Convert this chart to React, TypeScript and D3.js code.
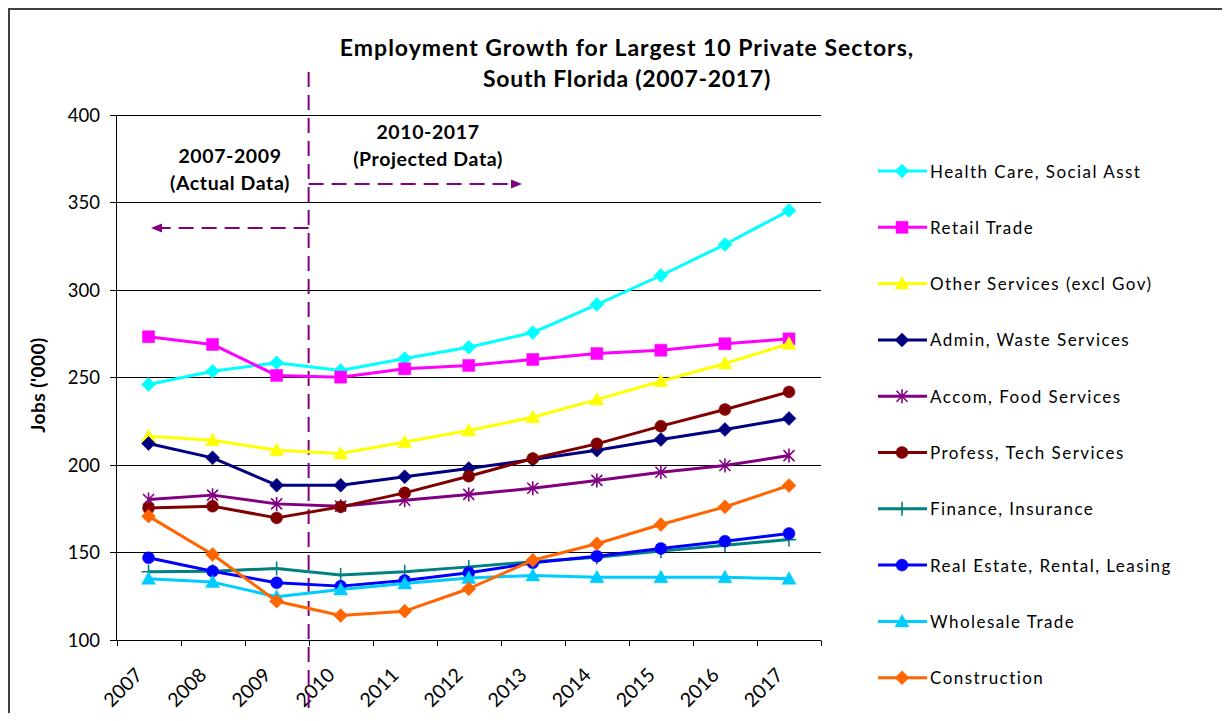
import React from 'react';
import * as d3 from 'd3';

const years = ['2007', '2008', '2009', '2010', '2011', '2012', '2013', '2014', '2015', '2016', '2017'];
const yTicks = [100, 150, 200, 250, 300, 350, 400];

const healthCare = [245.7, 253.3, 258.1, 253.7, 260.6, 267.0, 275.4, 291.4, 308.0, 325.7, 345.1];
const retailTrade = [273.0, 268.6, 250.9, 249.9, 254.7, 256.6, 260.0, 263.4, 265.3, 269.0, 271.8];
const otherServices = [216.2, 213.9, 208.2, 206.3, 212.8, 219.4, 227.0, 237.1, 247.6, 257.7, 269.0];
const adminWaste = [212.0, 203.8, 188.2, 188.2, 193.0, 197.7, 202.9, 208.2, 214.3, 220.0, 226.3];
const accomFood = [180.0, 182.5, 177.5, 176.2, 179.6, 182.9, 186.4, 190.9, 195.6, 199.4, 205.1];
const professTech = [175.2, 176.2, 169.5, 175.8, 183.8, 193.3, 203.4, 211.8, 221.9, 231.4, 241.5];
const financeIns = [138.7, 139.0, 140.6, 136.8, 138.7, 141.5, 144.4, 147.0, 150.5, 153.9, 157.1];
const realEstate = [146.7, 139.0, 132.4, 130.5, 133.7, 138.1, 143.8, 147.6, 152.0, 156.2, 160.6];
const wholesale = [134.7, 132.8, 124.4, 128.6, 132.0, 135.2, 136.6, 135.6, 135.6, 135.6, 134.7];
const construction = [170.5, 148.6, 121.9, 113.7, 116.2, 129.0, 145.3, 154.7, 165.7, 175.8, 188.0];

const seriesNames = [
  'Health Care, Social Asst',
  'Retail Trade',
  'Other Services (excl Gov)',
  'Admin, Waste Services',
  'Accom, Food Services',
  'Profess, Tech Services',
  'Finance, Insurance',
  'Real Estate, Rental, Leasing',
  'Wholesale Trade',
  'Construction',
];
const seriesValues = [healthCare, retailTrade, otherServices, adminWaste, accomFood, professTech, financeIns, realEstate, wholesale, construction];
const seriesColors = ['#00FFFF', '#FF00FF', '#FFFF00', '#000080', '#800080', '#800000', '#008080', '#0000FF', '#00CCFF', '#FF6600'];
const seriesMarkers = ['diamond', 'square', 'triangle', 'diamond', 'star', 'circle', 'plus', 'circle', 'triangle', 'diamond'];

const FONT = "Lato, 'Open Sans', sans-serif";

function markerPath(type: string): string {
  switch (type) {
    case 'diamond':
      return 'M0,-7L7,0L0,7L-7,0Z';
    case 'square':
      return 'M-6,-6H6V6H-6Z';
    case 'triangle':
      return 'M0,-7L7,5.5L-7,5.5Z';
    case 'circle':
      return d3.symbol(d3.symbolCircle, Math.PI * 36)() || '';
    case 'star':
      return 'M-5.5,-5.5L5.5,5.5M-5.5,5.5L5.5,-5.5M0,-7V7';
    case 'plus':
      return 'M0,-7V7M-7,0H7';
    default:
      return '';
  }
}

function Marker({ type, color, x, y }: { type: string; color: string; x: number; y: number }) {
  const stroke = type === 'star' || type === 'plus';
  return (
    <path
      d={markerPath(type)}
      transform={`translate(${x},${y})`}
      fill={stroke ? 'none' : color}
      stroke={color}
      strokeWidth={stroke ? 1.6 : 0.5}
    />
  );
}

export default function App() {
  const x = d3.scaleBand<string>().domain(years).range([116.5, 821]).padding(0);
  const y = d3.scaleLinear().domain([100, 400]).range([639.5, 114.5]);
  const cx = (yr: string) => (x(yr) as number) + x.bandwidth() / 2;
  const line = d3
    .line<number>()
    .x((_, i) => cx(years[i]))
    .y((v) => y(v));

  const divX = x('2010') as number;
  const crisp = (v: number) => Math.round(v) + 0.5;
  const purple = '#800080';
  const legendY0 = 171;
  const legendStep = 56.3;
  const annStyle = { fontFamily: FONT, fontWeight: 'bold' as const, fontSize: 19.5, letterSpacing: 0.6 };

  return (
    <svg width={1214} height={705} style={{ display: 'block', overflow: 'visible' }}>
      <g transform="translate(-8,-8)">
        <rect x={0} y={0} width={1240} height={730} fill="#fff" />
        {/* chart border */}
        <line x1={9} y1={8} x2={9} y2={730} stroke="#404040" strokeWidth={2} />
        <line x1={8} y1={9} x2={1240} y2={9} stroke="#404040" strokeWidth={2} />

        {/* title */}
        <text x={627} y={47} textAnchor="middle" dominantBaseline="central" fontFamily={FONT} fontWeight="bold" fontSize={23} letterSpacing={1} fill="#000">
          Employment Growth for Largest 10 Private Sectors,
        </text>
        <text x={627} y={78} textAnchor="middle" dominantBaseline="central" fontFamily={FONT} fontWeight="bold" fontSize={23} letterSpacing={0.7} fill="#000">
          South Florida (2007-2017)
        </text>

        {/* gridlines */}
        {yTicks.map((t) => (
          <g key={t}>
            <line x1={110} x2={821} y1={crisp(y(t))} y2={crisp(y(t))} stroke="#000" strokeWidth={1} />
            <text x={100} y={y(t)} textAnchor="end" dominantBaseline="central" fontFamily={FONT} fontSize={18.5} fill="#000">
              {t}
            </text>
          </g>
        ))}
        {/* y axis */}
        <line x1={116.5} x2={116.5} y1={crisp(y(400))} y2={crisp(y(100))} stroke="#000" strokeWidth={1} />
        {/* x ticks */}
        {[...years.map((yr) => x(yr) as number), 821].map((tx, i) => (
          <line key={i} x1={crisp(tx)} x2={crisp(tx)} y1={crisp(y(100))} y2={646} stroke="#000" strokeWidth={1} />
        ))}
        {years.map((yr) => (
          <text
            key={yr}
            transform={`translate(${cx(yr) - 10},671) rotate(-45)`}
            textAnchor="end"
            dominantBaseline="central"
            fontFamily={FONT}
            fontSize={19.5}
            fill="#000"
          >
            {yr}
          </text>
        ))}

        {/* y axis title */}
        <text transform="translate(37,385) rotate(-90)" textAnchor="middle" dominantBaseline="central" fontFamily={FONT} fontWeight="bold" fontSize={19} letterSpacing={0.5} fill="#000">
          Jobs ('000)
        </text>

        {/* divider and annotations */}
        <line x1={divX} x2={divX} y1={72} y2={708} stroke={purple} strokeWidth={2} strokeDasharray="15,8" />
        <line x1={divX} x2={513} y1={184} y2={184} stroke={purple} strokeWidth={2} strokeDasharray="15,8" />
        <path d="M522,184L511,179.5L511,188.5Z" fill={purple} />
        <line x1={divX} x2={160} y1={228} y2={228} stroke={purple} strokeWidth={2} strokeDasharray="15,8" />
        <path d="M151,228L162,223.5L162,232.5Z" fill={purple} />
        <text x={428} y={131} textAnchor="middle" dominantBaseline="central" {...annStyle} fill="#000">2010-2017</text>
        <text x={428} y={158} textAnchor="middle" dominantBaseline="central" {...annStyle} fill="#000">(Projected Data)</text>
        <text x={230} y={155} textAnchor="middle" dominantBaseline="central" {...annStyle} fill="#000">2007-2009</text>
        <text x={230} y={182} textAnchor="middle" dominantBaseline="central" {...annStyle} fill="#000">(Actual Data)</text>

        {/* series */}
        {seriesValues.map((vals, si) => (
          <g key={si}>
            <path d={line(vals) || ''} fill="none" stroke={seriesColors[si]} strokeWidth={3} strokeLinejoin="round" />
            {vals.map((v, i) => (
              <Marker key={i} type={seriesMarkers[si]} color={seriesColors[si]} x={cx(years[i])} y={y(v)} />
            ))}
          </g>
        ))}

        {/* legend */}
        {seriesNames.map((name, si) => {
          const ly = legendY0 + si * legendStep;
          return (
            <g key={name}>
              <line x1={878} x2={927} y1={ly} y2={ly} stroke={seriesColors[si]} strokeWidth={3} />
              <Marker type={seriesMarkers[si]} color={seriesColors[si]} x={902} y={ly} />
              <text x={930} y={ly} dominantBaseline="central" fontFamily={FONT} fontSize={17} letterSpacing={1.45} fill="#000">
                {name}
              </text>
            </g>
          );
        })}
      </g>
    </svg>
  );
}
